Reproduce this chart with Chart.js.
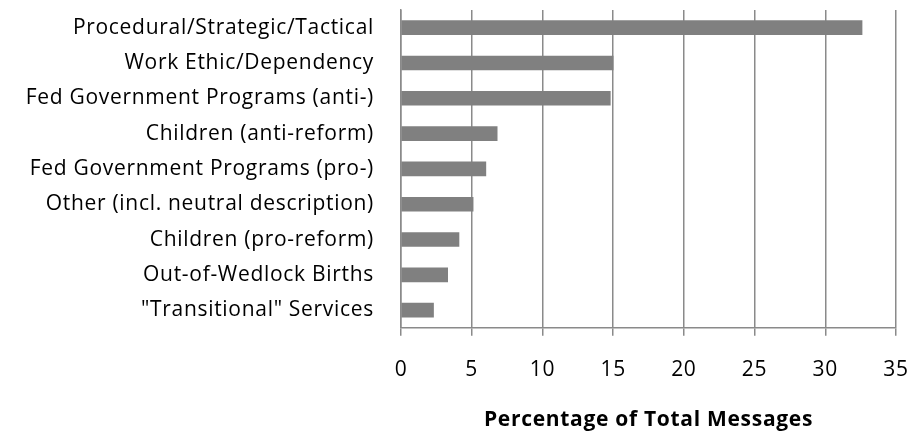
<!DOCTYPE html>
<html>
<head>
<meta charset="utf-8">
<script src="https://cdn.jsdelivr.net/npm/chart.js@4"></script>
<style>
  html, body { margin: 0; padding: 0; background: #fff; }
  #wrap { width: 917px; height: 438px; }
</style>
</head>
<body>
<div id="wrap"><canvas id="theCanvas"></canvas></div>
<script>
// categories, top to bottom
var categories = [
    'Procedural/Strategic/Tactical',
    'Work Ethic/Dependency',
    'Fed Government Programs (anti-)',
    'Children (anti-reform)',
    'Fed Government Programs (pro-)',
    'Other (incl. neutral description)',
    'Children (pro-reform)',
    'Out-of-Wedlock Births',
    '"Transitional" Services'
]
var percentages = [32.6, 15.0, 14.8, 6.8, 6.0, 5.1, 4.1, 3.3, 2.3]
var xTicks = [0, 5, 10, 15, 20, 25, 30, 35]

var fontFamily = '"Open Sans", sans-serif'
var gridGray = '#8a8a8a'

// the original text is a bit wider than Open Sans, spread the letters a little
var letterSpread = {
    id: 'letterSpread',
    beforeLayout: function(chart){ chart.ctx.letterSpacing = '0.7px' },
    beforeDraw: function(chart){ chart.ctx.letterSpacing = '0.7px' }
}

var ctx = document.getElementById('theCanvas');

var myChart = new Chart(ctx, {
    type: 'bar',
    plugins: [letterSpread],
    data: {
        labels: categories,
        datasets: [{
            data: percentages,
            backgroundColor: '#808080',
            borderWidth: 0,
            barThickness: 14
        }]
    },
    options: {
        indexAxis: 'y',
        responsive: true,
        maintainAspectRatio: false,
        animation: false,
        layout: { padding: { top: 10, right: 21, bottom: 7, left: 0 } },
        plugins: {
            legend: { display: false },
            tooltip: { enabled: false }
        },
        scales: {
            x: {
                min: xTicks[0],
                max: xTicks[xTicks.length - 1],
                afterBuildTicks: function(axis){
                    axis.ticks = xTicks.map(function(v){ return { value: v } })
                },
                afterFit: function(axis){ axis.paddingLeft = 0; axis.paddingRight = 0 },
                grid: { color: gridGray, lineWidth: 1.5, tickLength: 8 },
                border: { color: gridGray, width: 1.5 },
                ticks: { color: '#000', font: { family: fontFamily, size: 21 }, padding: 22, maxRotation: 0 },
                title: {
                    display: true,
                    text: 'Percentage of Total Messages',
                    color: '#000',
                    font: { family: fontFamily, size: 21, weight: 'bold', lineHeight: 1 },
                    padding: { top: 5, bottom: 0 }
                }
            },
            y: {
                afterFit: function(axis){
                    axis.width = 401
                    axis.paddingTop = 0
                    axis.paddingBottom = 0
                },
                grid: { display: false },
                border: { color: gridGray, width: 1.5 },
                ticks: { color: '#000', font: { family: fontFamily, size: 21 }, padding: 19 }
            }
        }
    }
});
</script>
</body>
</html>
